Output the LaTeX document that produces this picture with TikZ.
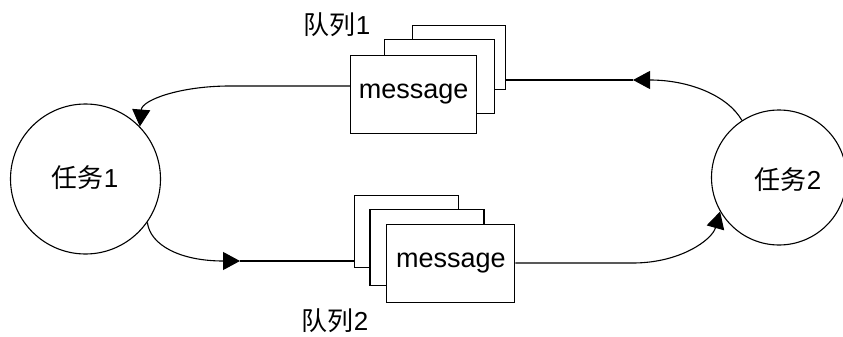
\documentclass[tikz,border=0pt]{standalone}
\usepackage{fontspec}
\setmainfont{Liberation Sans}
\newfontfamily\cjk{Noto Sans CJK SC}
\usetikzlibrary{arrows.meta}

\begin{document}
\begin{tikzpicture}[
    x=1pt, y=-1pt,
    line width=1.1pt,
    task/.style={draw, circle, inner sep=0pt, fill=white},
    msg/.style={draw, fill=white, inner sep=0pt, font=\fontsize{27}{30}\selectfont},
    qname/.style={font=\fontsize{26}{29}\selectfont, inner sep=0pt},
    arrow/.style={-{Triangle[length=17pt, width=18pt]}},
]
\useasboundingbox (0,0) rectangle (843,337);

% tasks
\node[task, minimum size=150pt] (t1) at (85.5,179) {};
\node[qname] (t1txt) at (85,178) {{\cjk 任务}1};
\node[task, minimum size=135pt] (t2) at (779,177.5) {};
\node[qname] (t2txt) at (788,180) {{\cjk 任务}2};

% queue 1, stacked from back to front
\node[msg, minimum width=93pt, minimum height=64pt] (q1c) at (459.2,57.3) {};
\node[msg, minimum width=110pt, minimum height=74pt] (q1b) at (439.2,76.3) {};
\node[msg, minimum width=126pt, minimum height=78pt] (q1) at (413.7,94.5) {message};
\node[qname] (q1txt) at (337,25) {{\cjk 队列}1};

% queue 2
\node[msg, minimum width=104pt, minimum height=72pt] (q2c) at (406.2,231.2) {};
\node[msg, minimum width=114pt, minimum height=76pt] (q2b) at (427,247.2) {};
\node[msg, minimum width=128pt, minimum height=78pt] (q2) at (450.8,263.3) {message};
\node[qname] (q2txt) at (335,321) {{\cjk 队列}2};

% bends of the connectors
\coordinate (a1) at (633,80);
\coordinate (b1) at (230,86);
\coordinate (a2) at (240,261);
\coordinate (b2) at (633,263);

% task 2 -> queue 1 -> task 1
\draw[arrow] (t2.123) .. controls (728,96) and (690,80) .. (a1);
\draw (a1) -- (q1c.east |- a1);
\draw[arrow] (q1.west |- b1) -- (b1) .. controls (180,86) and (142,100) .. (t1.44);

% task 1 -> queue 2 -> task 2
\draw[arrow] (t1.-35) .. controls (150,245) and (180,261) .. (a2);
\draw (a2) -- (q2c.west |- a2);
\draw[arrow] (q2.east |- b2) -- (b2) .. controls (680,263) and (712,240) .. (t2.210);

\end{tikzpicture}
\end{document}
